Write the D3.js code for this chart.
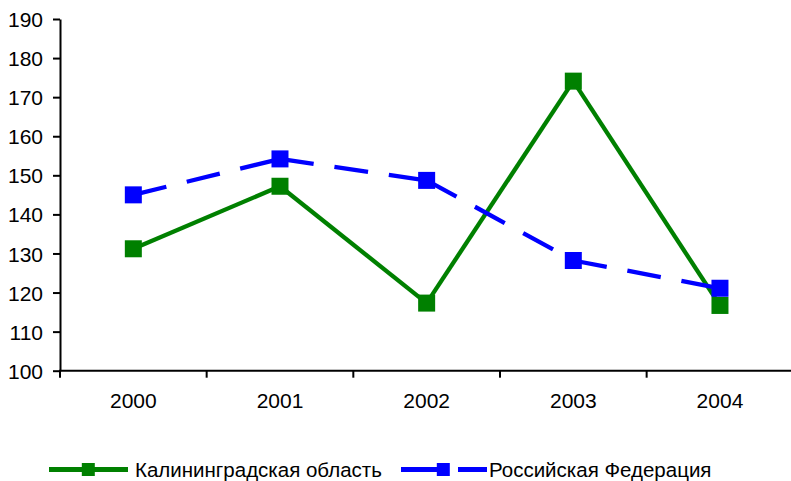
<!DOCTYPE html>
<html>
<head>
<meta charset="utf-8">
<script src="https://cdn.jsdelivr.net/npm/d3@7/dist/d3.min.js"></script>
<style>
  html, body { margin: 0; padding: 0; background: #fff; }
  svg { display: block; }
  text { font-family: "Liberation Sans", Arial, sans-serif; fill: #000; }
</style>
</head>
<body>
<svg id="chart" width="791" height="481"></svg>
<script>
const years = ["2000", "2001", "2002", "2003", "2004"];
const kaliningrad = [131.2, 147.2, 117.3, 174.1, 116.7];
const russia = [145, 154.2, 148.7, 128.2, 121.1];
const yTicks = [100, 110, 120, 130, 140, 150, 160, 170, 180, 190];
const seriesNames = ["Калининградская область", "Российская Федерация"];

const svg = d3.select("#chart");
const mLeft = 60, mRight = 793.3, mTop = 19, mBottom = 370.7;

const x = d3.scaleBand().domain(years).range([mLeft, mRight]);
const y = d3.scaleLinear().domain([100, 190]).range([mBottom, mTop]);

// Y axis
const yAxis = svg.append("g").attr("transform", `translate(${mLeft},0)`)
  .call(d3.axisLeft(y).tickValues(yTicks).tickSize(7).tickPadding(10).tickSizeOuter(0));
yAxis.select(".domain").attr("stroke", "#000").attr("stroke-width", 2);
yAxis.selectAll(".tick line").attr("stroke", "#000").attr("stroke-width", 2);
yAxis.selectAll(".tick text").attr("font-size", "21px").attr("font-family", "Liberation Sans, Arial, sans-serif").attr("dy", "0.36em");

// X axis
const xAxis = svg.append("g").attr("transform", `translate(0,${mBottom})`)
  .call(d3.axisBottom(x).tickSize(0).tickPadding(22));
xAxis.select(".domain").attr("stroke", "#000").attr("stroke-width", 2).attr("d", `M${mLeft - 1},0H${mRight}`);
xAxis.selectAll(".tick text").attr("font-size", "21px").attr("font-family", "Liberation Sans, Arial, sans-serif");
// Category boundary ticks
const bounds = years.map(d => x(d)).concat([mRight]);
xAxis.selectAll(".bound").data(bounds).enter().append("line")
  .attr("x1", d => d).attr("x2", d => d).attr("y1", 0).attr("y2", 7)
  .attr("stroke", "#000").attr("stroke-width", 2);

const cx = d => x(d) + x.bandwidth() / 2;
const msize = 17;

function drawSeries(vals, color, dashed) {
  const g = svg.append("g");
  for (let i = 0; i < vals.length - 1; i++) {
    g.append("line")
      .attr("x1", cx(years[i])).attr("y1", y(vals[i]))
      .attr("x2", cx(years[i + 1])).attr("y2", y(vals[i + 1]))
      .attr("stroke", color).attr("stroke-width", 4.3)
      .attr("stroke-dasharray", dashed ? "34,21" : null);
  }
  g.selectAll("rect").data(vals).enter().append("rect")
    .attr("x", (d, i) => cx(years[i]) - msize / 2)
    .attr("y", d => y(d) - msize / 2)
    .attr("width", msize).attr("height", msize)
    .attr("fill", color);
}
drawSeries(kaliningrad, "#008000", false);
drawSeries(russia, "#0000ff", true);

// Legend
const ly = 469.5;
const lg = svg.append("g");
lg.append("line").attr("x1", 49).attr("x2", 128).attr("y1", ly).attr("y2", ly)
  .attr("stroke", "#008000").attr("stroke-width", 5);
lg.append("rect").attr("x", 88.3 - 6.5).attr("y", ly - 6.5).attr("width", 13).attr("height", 13).attr("fill", "#008000");
lg.append("text").attr("x", 135).attr("y", ly).attr("dy", "0.38em").attr("font-size", "20.5px").text(seriesNames[0]);

lg.append("line").attr("x1", 401).attr("x2", 447).attr("y1", ly).attr("y2", ly)
  .attr("stroke", "#0000ff").attr("stroke-width", 5);
lg.append("line").attr("x1", 458).attr("x2", 487).attr("y1", ly).attr("y2", ly)
  .attr("stroke", "#0000ff").attr("stroke-width", 5);
lg.append("rect").attr("x", 443.3 - 6.5).attr("y", ly - 6.5).attr("width", 13).attr("height", 13).attr("fill", "#0000ff");
lg.append("text").attr("x", 489).attr("y", ly).attr("dy", "0.38em").attr("font-size", "20.5px").text(seriesNames[1]);
</script>
</body>
</html>
